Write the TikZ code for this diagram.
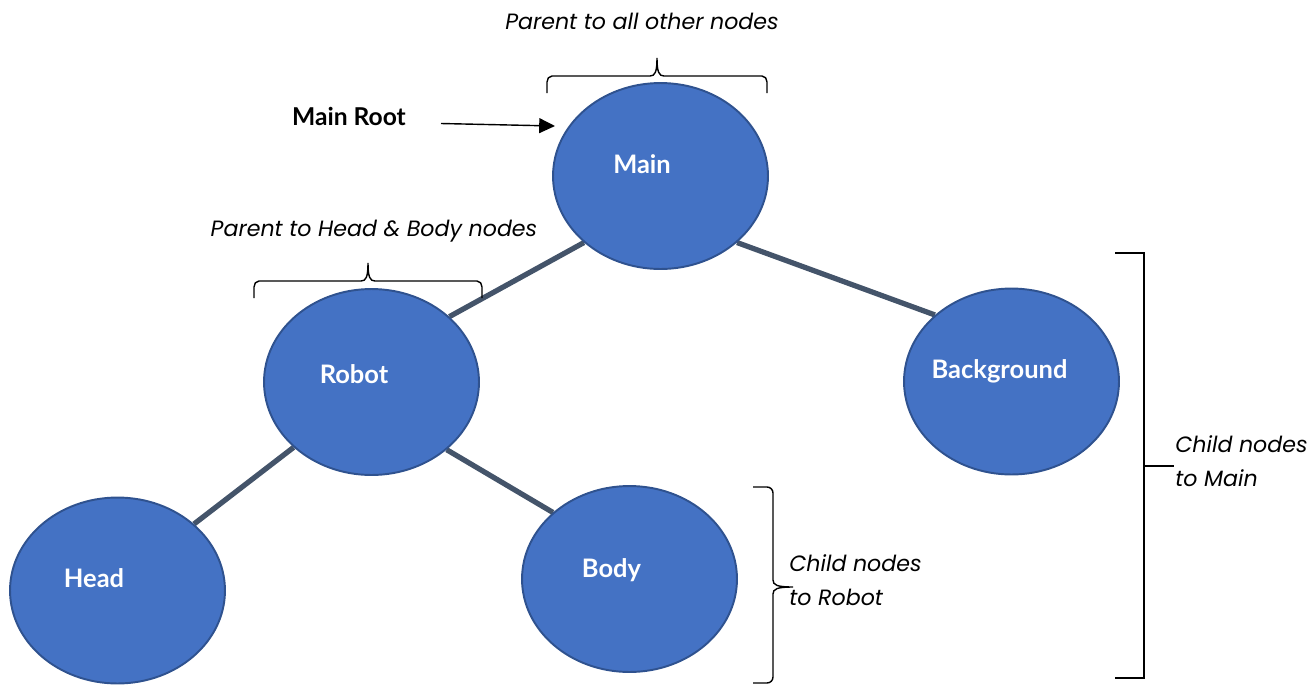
\documentclass[tikz,border=0pt]{standalone}
\usepackage{fontspec}
\setmainfont{Lato}
\newfontfamily\notefont{Poppins}
\usetikzlibrary{arrows.meta,shapes.geometric,backgrounds}
\definecolor{nodeblue}{HTML}{4472C4}
\definecolor{nodeedge}{HTML}{2F528F}
\definecolor{linkgrey}{HTML}{44546A}

\begin{document}
\begin{tikzpicture}[x=0.02cm,y=-0.02cm,
  treenode/.style={ellipse, draw=nodeedge, line width=1.1pt, fill=nodeblue,
    minimum width=4.3cm, minimum height=3.72cm, inner sep=0pt},
  lbl/.style={text=white, font=\bfseries\fontsize{14.5}{16}\selectfont, anchor=base, inner sep=0pt},
  note/.style={font=\notefont\itshape\fontsize{12.6}{19}\selectfont, inner sep=0pt},
  link/.style={draw=linkgrey, line width=3pt},
  bracket/.style={draw=black, line width=0.8pt}]
\useasboundingbox (0,0) rectangle (1316,684);

% tree nodes
\node[treenode] (main) at (660.5,176) {};
\node[treenode] (robot) at (371.5,382) {};
\node[treenode] (background) at (1011.5,381.5) {};
\node[treenode] (head) at (117.5,590.5) {};
\node[treenode] (body) at (629.5,579) {};

% node captions
\node[lbl] (mainlbl) at (642,173) {Main};
\node[lbl] (robotlbl) at (354,383) {Robot};
\node[lbl] (backgroundlbl) at (999.5,378) {Background};
\node[lbl] (headlbl) at (94,587) {Head};
\node[lbl] (bodylbl) at (611.5,577) {Body};

% parent-child links
\begin{scope}[on background layer]
  \draw[link] (main.221.6) -- (robot.40.3);
  \draw[link] (main.319.6) -- (background.139.9);
  \draw[link] (robot.220.8) -- (head.41.1);
  \draw[link] (robot.318.8) -- (body.139.2);
\end{scope}

% root marker
\node[font=\bfseries\fontsize{14}{16}\selectfont, anchor=base, inner sep=0pt] (rootlbl) at (349,125) {Main Root};
\coordinate (rootstart) at (441,123.5);
\coordinate (roottip) at (555,126);
\draw[line width=0.8pt, -{Triangle[length=9pt,width=8.5pt]}] (rootstart) -- (roottip);

% brace above Main
\draw[bracket] (547,93) -- (547,82) to[out=90,in=180] (552,76) -- (650,76)
  .. controls (655,76) and (657,72) .. (657,58)
  .. controls (657,72) and (659,76) .. (664,76) -- (762,76)
  to[out=0,in=90] (767,82) -- (767,93);
\node[note, anchor=base] (mainnote) at (642,29) {Parent to all other nodes};

% brace above Robot
\draw[bracket] (254,298) -- (254,287) to[out=90,in=180] (259,281) -- (361,281)
  .. controls (366,281) and (368,277) .. (368,263)
  .. controls (368,277) and (370,281) .. (375,281) -- (477,281)
  to[out=0,in=90] (482,287) -- (482,298);
\node[note, anchor=base] (robotnote) at (374,236) {Parent to Head \& Body nodes};

% brace beside Robot's children
\draw[bracket] (753,487) -- (767,487) to[out=0,in=90] (773,493) -- (773,580)
  .. controls (773,585) and (777,587) .. (793,587)
  .. controls (777,587) and (773,589) .. (773,594) -- (773,677)
  to[out=-90,in=0] (767,683) -- (753,683);
\node[note, anchor=west, align=left] (bodynote) at (789,580) {Child nodes\\to Robot};

% bracket beside Main's children
\draw[bracket] (1115,253) -| (1144,678) -- (1115,678);
\draw[bracket] (1144,466) -- (1174,466);
\node[note, anchor=west, align=left] (bgnote) at (1175,461) {Child nodes\\to Main};
\end{tikzpicture}
\end{document}
